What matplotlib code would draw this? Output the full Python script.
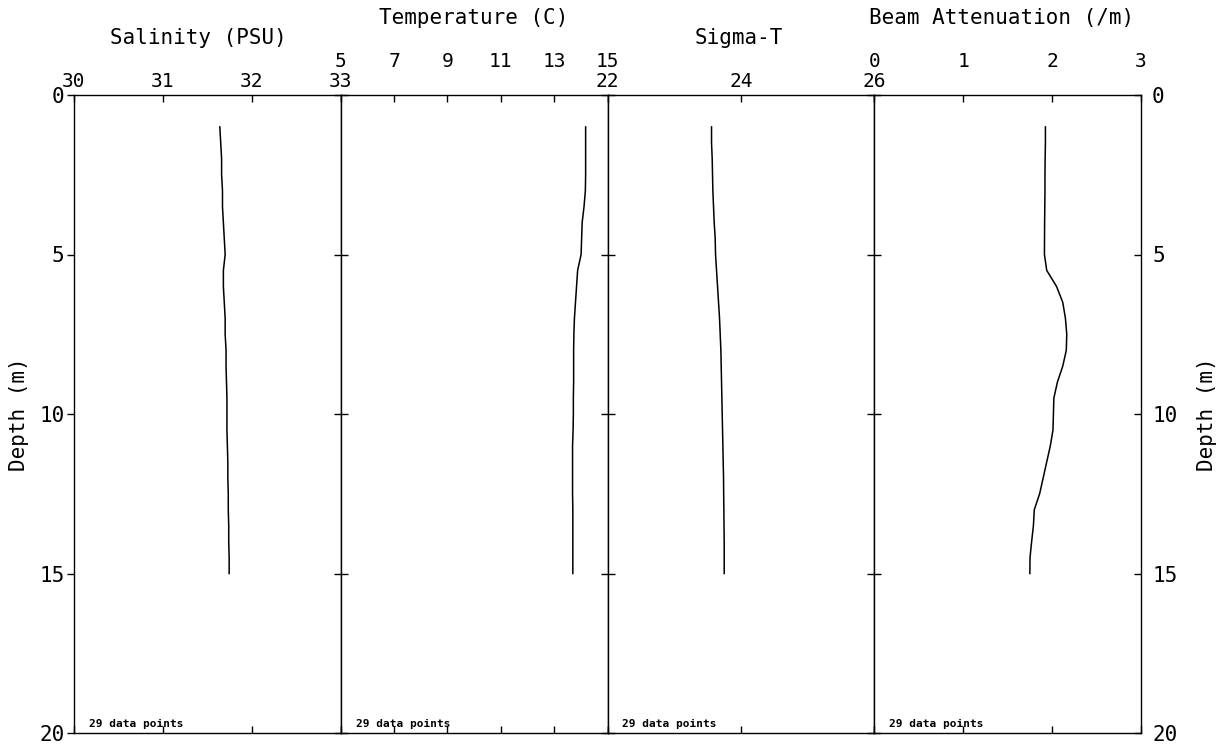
import matplotlib
matplotlib.use("Agg")
import matplotlib.pyplot as plt

depth = [1.0, 1.5, 2.0, 2.5, 3.0, 3.5, 4.0, 4.5, 5.0, 5.5, 6.0, 6.5, 7.0, 7.5,
         8.0, 8.5, 9.0, 9.5, 10.0, 10.5, 11.0, 11.5, 12.0, 12.5, 13.0, 13.5,
         14.0, 14.5, 15.0]

salinity = [31.64, 31.65, 31.66, 31.66, 31.67, 31.67, 31.68, 31.69, 31.70, 31.68,
            31.68, 31.69, 31.70, 31.70, 31.71, 31.71, 31.715, 31.72, 31.72, 31.72,
            31.725, 31.73, 31.73, 31.735, 31.735, 31.74, 31.74, 31.745, 31.745]

temperature = [14.18, 14.18, 14.18, 14.18, 14.17, 14.12, 14.05, 14.03, 14.01, 13.88,
               13.84, 13.80, 13.76, 13.74, 13.73, 13.73, 13.73, 13.72, 13.72, 13.71,
               13.69, 13.69, 13.69, 13.69, 13.70, 13.70, 13.70, 13.70, 13.70]

sigma_t = [23.56, 23.56, 23.57, 23.575, 23.58, 23.59, 23.60, 23.615, 23.62, 23.635,
           23.65, 23.665, 23.68, 23.69, 23.70, 23.705, 23.71, 23.715, 23.72, 23.725,
           23.73, 23.735, 23.74, 23.742, 23.745, 23.747, 23.75, 23.75, 23.75]

beam = [1.925, 1.925, 1.922, 1.92, 1.92, 1.918, 1.916, 1.915, 1.914, 1.94,
        2.05, 2.12, 2.15, 2.165, 2.16, 2.12, 2.06, 2.02, 2.015, 2.01,
        1.98, 1.94, 1.90, 1.86, 1.80, 1.79, 1.77, 1.752, 1.75]

titles = ["Salinity (PSU)", "Temperature (C)", "Sigma-T", "Beam Attenuation (/m)"]
xlims = [(30, 33), (5, 15), (22, 26), (0, 3)]
xticks = [[30, 31, 32, 33], [5, 7, 9, 11, 13, 15], [22, 24, 26], [0, 1, 2, 3]]
depth_ticks = [0, 5, 10, 15, 20]
depth_label = "Depth (m)"
note = "29 data points"
series = [salinity, temperature, sigma_t, beam]

FONT = "DejaVu Sans Mono"
FS = 15
TFS = 14
W, H = 1224, 755
L, R, T, B = 74, 1141, 95, 733

fig = plt.figure(figsize=(W / 100, H / 100), dpi=100)
panel_w = (R - L) / 4
axes = []
for i in range(4):
    x0 = L + i * panel_w
    ax = fig.add_axes([x0 / W, 1 - B / H, panel_w / W, (B - T) / H])
    axes.append(ax)

label_pads = [3, 17, 3, 17]
title_off = [47, 67, 47, 67]
title_dx = [-9, 0, -2, -6]

for i, ax in enumerate(axes):
    ax.plot(series[i], depth, color="black", lw=1.1)
    ax.set_xlim(*xlims[i])
    ax.set_ylim(20, 0)
    for s in ax.spines.values():
        s.set_linewidth(1.0)
        s.set_color("black")
    ax.set_xticks(xticks[i])
    ax.set_xticklabels([str(v) for v in xticks[i]], fontfamily=FONT, fontsize=TFS)
    ax.tick_params(axis="x", top=True, bottom=True, labeltop=True, labelbottom=False,
                   direction="in", length=5, width=1.0, pad=label_pads[i])
    ax.set_yticks(depth_ticks)
    if i == 0:
        ax.set_yticklabels([str(v) for v in depth_ticks], fontfamily=FONT, fontsize=FS)
        ax.tick_params(axis="y", left=True, right=False, direction="out", length=5,
                       width=1.0, pad=2)
    else:
        ax.set_yticklabels([])
        ax.tick_params(axis="y", left=True, right=False, direction="inout", length=10,
                       width=1.0)
    ax.annotate(titles[i], xy=(0.5, 1), xycoords="axes fraction",
                xytext=(title_dx[i], title_off[i]), textcoords="offset pixels",
                ha="center", va="bottom", fontfamily=FONT, fontsize=FS)
    ax.annotate(note, xy=(0, 0), xycoords="axes fraction", xytext=(15, 4),
                textcoords="offset pixels", ha="left", va="bottom",
                fontfamily=FONT, fontsize=8, fontweight="bold")

fig.text(19 / W, 1 - 414 / H, depth_label, rotation=90, ha="center", va="center",
         fontfamily=FONT, fontsize=FS)

axr = axes[3].twinx()
axr.set_ylim(20, 0)
axr.set_yticks(depth_ticks)
axr.set_yticklabels([str(v) for v in depth_ticks], fontfamily=FONT, fontsize=FS)
axr.tick_params(axis="y", right=True, direction="in", length=5, width=1.0, pad=8)
for s in axr.spines.values():
    s.set_visible(False)

fig.text(1207 / W, 1 - 414 / H, depth_label, rotation=90, ha="center", va="center",
         fontfamily=FONT, fontsize=FS)

fig.savefig("out.png", dpi=100, facecolor="white")
